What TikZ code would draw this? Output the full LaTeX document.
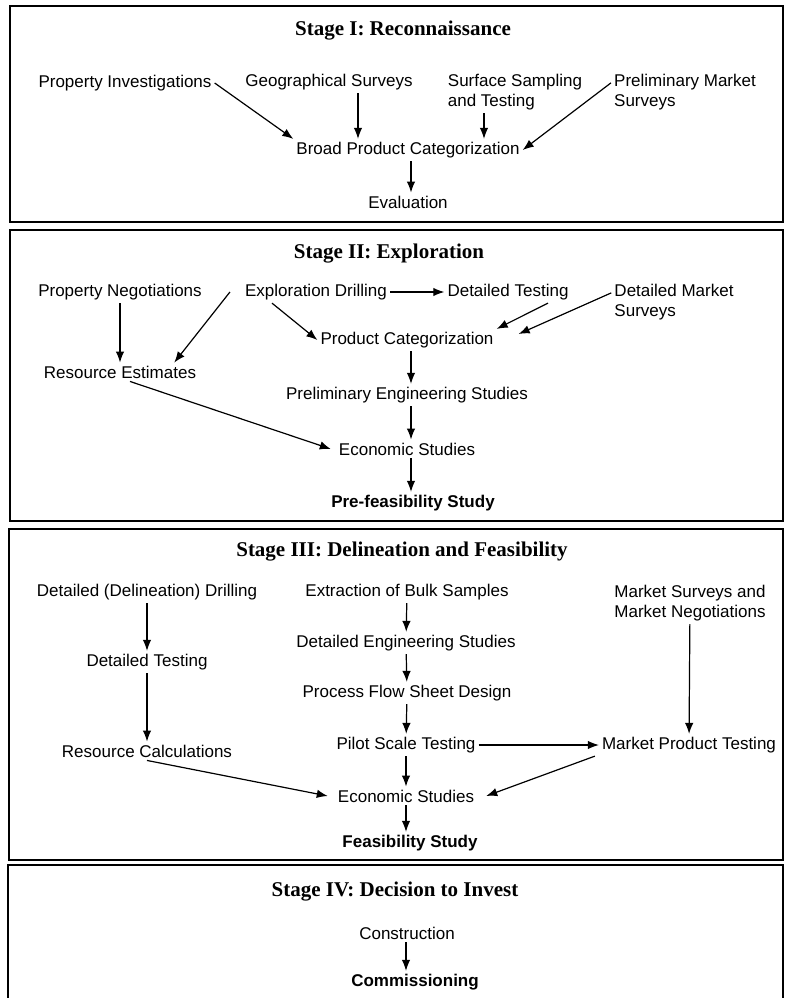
\documentclass[tikz,border=0pt]{standalone}
\usepackage{fontspec}
\setmainfont{Liberation Serif}
\setsansfont{Liberation Sans}
\usetikzlibrary{arrows.meta}

\begin{document}
\begin{tikzpicture}[
    x=1pt, y=-1pt,
    >={Latex[length=11pt,width=8.5pt]},
    every node/.style={font=\sffamily\fontsize{17}{20}\selectfont, align=center, inner sep=3pt},
    stage/.style={draw, line width=1.6pt},
    heading/.style={font=\rmfamily\bfseries\fontsize{21}{25}\selectfont},
    result/.style={font=\sffamily\bfseries\fontsize{17}{20}\selectfont},
    twoline/.style={align=left},
    flow/.style={->, line width=1.2pt}
]
    \useasboundingbox (0,0) rectangle (784,998);

    % Kaders
    \draw[stage] (10,6)   rectangle (783,222);
    \draw[stage] (10,230) rectangle (783,521);
    \draw[stage] (9,529)  rectangle (783,860);
    \draw[stage] (8,865)  rectangle (783,1003);

    % Stage I
    \node[heading] (t1)    at (403,31)  {Stage I: Reconnaissance};
    \node          (pinv)  at (125,83)  {Property Investigations};
    \node          (geo)   at (329,82)  {Geographical Surveys};
    \node[twoline] (surf)  at (515,92)  {Surface Sampling\\and Testing};
    \node[twoline] (prelm) at (685,92)  {Preliminary Market\\Surveys};
    \node          (bpc)   at (408,150) {Broad Product Categorization};
    \node          (eval)  at (408,202) {Evaluation};

    \draw[flow] (pinv.east) -- (bpc.north west);
    \draw[flow] ([xshift=29pt]geo.south) -- ([xshift=-50pt]bpc.north);
    \draw[flow] ([xshift=-31pt]surf.south) -- ([xshift=76pt]bpc.north);
    \draw[flow] ([yshift=-12pt]prelm.north west) -- (bpc.east);
    \draw[flow] ([xshift=3pt]bpc.south) -- ([xshift=3pt]eval.north);

    % Stage II
    \node[heading] (t2)    at (389,254) {Stage II: Exploration};
    \node          (pneg)  at (120,292) {Property Negotiations};
    \node          (expd)  at (316,292) {Exploration Drilling};
    \node          (dtest) at (508,292) {Detailed Testing};
    \node[twoline] (dmkt)  at (674,302) {Detailed Market\\Surveys};
    \node          (pcat)  at (407,340) {Product Categorization};
    \node          (rest)  at (120,372) {Resource Estimates};
    \node          (peng)  at (407,395) {Preliminary Engineering Studies};
    \node          (econa) at (407,449) {Economic Studies};
    \node[result]  (prefs) at (413,503) {Pre-feasibility Study};

    \draw[flow] (pneg) -- (rest);
    \draw[flow] ([xshift=-12pt]expd.west) -- ([xshift=-25pt]rest.north east);
    \draw[flow] ([xshift=-44pt]expd.south) -- (pcat.west);
    \draw[flow] (expd) -- (dtest);
    \draw[flow] ([xshift=40pt]dtest.south) -- (pcat.north east);
    \draw[flow] ([yshift=-12pt]dmkt.north west) -- ([xshift=22pt,yshift=6pt]pcat.east);
    \draw[flow] ([xshift=4pt]pcat.south) -- ([xshift=4pt]peng.north);
    \draw[flow] ([xshift=4pt]peng.south) -- ([xshift=4pt]econa.north);
    \draw[flow] ([xshift=10pt]rest.south) -- ([xshift=-5pt]econa.west);
    \draw[flow] ([xshift=4pt]econa.south) -- ([xshift=-2pt]prefs.north);

    % Stage III
    \node[heading] (t3)     at (402,552) {Stage III: Delineation and Feasibility};
    \node          (ddrill) at (147,592) {Detailed (Delineation) Drilling};
    \node          (dtestb) at (147,662) {Detailed Testing};
    \node          (rcalc)  at (147,751) {Resource Calculations};
    \node          (bulk)   at (407,592) {Extraction of Bulk Samples};
    \node          (deng)   at (406,643) {Detailed Engineering Studies};
    \node          (pfsd)   at (407,693) {Process Flow Sheet Design};
    \node          (pilot)  at (406,745) {Pilot Scale Testing};
    \node          (econb)  at (406,796) {Economic Studies};
    \node[result]  (feas)   at (410,843) {Feasibility Study};
    \node[twoline] (msmn)   at (690,603) {Market Surveys and\\Market Negotiations};
    \node          (mpt)    at (689,745) {Market Product Testing};

    \draw[flow] (ddrill) -- (dtestb);
    \draw[flow] (dtestb) -- (rcalc);
    \draw[flow] (bulk) -- (deng);
    \draw[flow] (deng) -- (pfsd);
    \draw[flow] (pfsd) -- (pilot);
    \draw[flow] (pilot) -- (econb);
    \draw[flow] (econb.south) -- ([xshift=-4pt]feas.north);
    \draw[flow] (pilot) -- (mpt);
    \draw[flow] (msmn) -- (mpt);
    \draw[flow] (rcalc.south) -- ([xshift=-7pt]econb.west);
    \draw[flow] ([xshift=-4pt]mpt.south west) -- ([xshift=9pt]econb.east);

    % Stage IV
    \node[heading] (t4)   at (395,892) {Stage IV: Decision to Invest};
    \node          (cons) at (407,933) {Construction};
    \node[result]  (comm) at (415,982) {Commissioning};

    \draw[flow] ([xshift=-1pt]cons.south) -- ([xshift=-9pt]comm.north);
\end{tikzpicture}
\end{document}
